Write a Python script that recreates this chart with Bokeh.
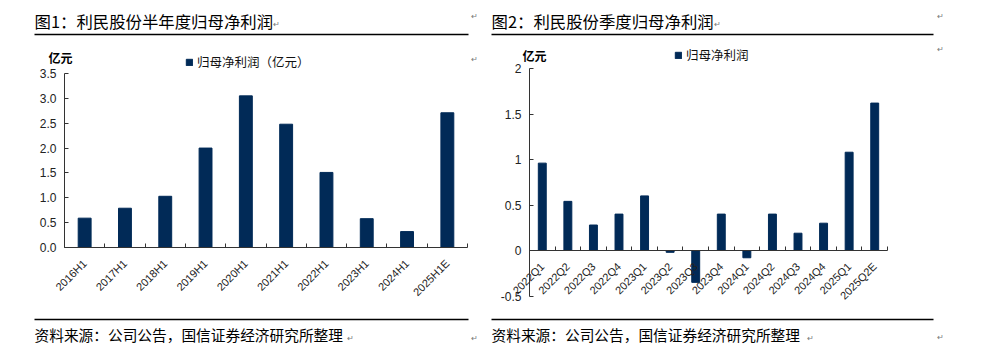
import math
from bokeh.plotting import figure
from bokeh.models import (FixedTicker, Label, Legend, LegendItem, Range1d,
                          LinearAxis, NumeralTickFormatter)
from bokeh.embed import file_html
from bokeh.resources import INLINE

# ---------------- data ----------------
half_cats = ["2016H1", "2017H1", "2018H1", "2019H1", "2020H1",
             "2021H1", "2022H1", "2023H1", "2024H1", "2025H1E"]
half_vals = [0.59, 0.79, 1.03, 2.00, 3.05, 2.48, 1.51, 0.58, 0.32, 2.71]

q_cats = ["2022Q1", "2022Q2", "2022Q3", "2022Q4", "2023Q1", "2023Q2", "2023Q3",
          "2023Q4", "2024Q1", "2024Q2", "2024Q3", "2024Q4", "2025Q1", "2025Q2E"]
q_vals = [0.96, 0.54, 0.28, 0.40, 0.60, -0.02, -0.35,
          0.40, -0.08, 0.40, 0.19, 0.30, 1.08, 1.62]

y1_ticks = [0.0, 0.5, 1.0, 1.5, 2.0, 2.5, 3.0, 3.5]
y2_ticks = [-0.5, 0.0, 0.5, 1.0, 1.5, 2.0]
y2_labels = ["-0.5", "0", "0.5", "1", "1.5", "2"]

title1 = "图1：利民股份半年度归母净利润"
title2 = "图2：利民股份季度归母净利润"
legend1 = "归母净利润（亿元）"
legend2 = "归母净利润"
unit_txt = "亿元"
source_txt = "资料来源：公司公告，国信证券经济研究所整理"

NAVY = "#012A57"
CJK = "Noto Sans CJK SC"
LAT = "Liberation Sans"
AX = "#333333"
W, H = 986, 355


def span(v0, p0, v1, p1, lo, hi):
    """Range whose values v0/v1 land on pixels p0/p1 of a frame from lo to hi."""
    s = (v1 - v0) / (p1 - p0)
    return Range1d(v0 + (lo - p0) * s, v0 + (hi - p0) * s)


p = figure(width=W, height=H, x_range=Range1d(0, W), y_range=Range1d(H, 0),
           output_backend="svg", toolbar_location=None,
           x_axis_location=None, y_axis_location=None,
           min_border=0, min_border_left=0, min_border_right=0,
           min_border_top=0, min_border_bottom=0)
p.outline_line_color = None
p.grid.grid_line_color = None
p.background_fill_color = "white"
p.border_fill_color = "white"

n1, n2 = len(half_cats), len(q_cats)
# chart 1 frame: x -0.5..n-0.5 over px 64..467 ; y 0..3.5 over px 247..73
p.extra_x_ranges["c1x"] = span(-0.5, 64, n1 - 0.5, 467, 0, W)
p.extra_y_ranges["c1y"] = span(0, 247, 3.5, 73, H, 0)
# chart 2 frame: x over px 529..887 ; y 0 at 250, 2 at 68
p.extra_x_ranges["c2x"] = span(-0.5, 529, n2 - 0.5, 887, 0, W)
p.extra_y_ranges["c2y"] = span(0, 250, 2.0, 68, H, 0)


def add_axes(xr, yr, n, cats, y_bounds, xlab_size, yticks, ylabels=None):
    xa = LinearAxis(x_range_name=xr, y_range_name=yr, fixed_location=0,
                    bounds=(-0.5, n - 0.5))
    xa.ticker = FixedTicker(ticks=list(range(n)),
                            minor_ticks=[i - 0.5 for i in range(n + 1)])
    xa.major_label_overrides = {i: c for i, c in enumerate(cats)}
    xa.major_label_orientation = math.pi / 4
    xa.major_tick_line_color = None
    xa.minor_tick_in = 4
    xa.minor_tick_out = 0
    xa.minor_tick_line_color = AX
    xa.axis_line_color = AX
    xa.major_label_text_font = LAT
    xa.major_label_text_font_size = xlab_size
    xa.major_label_text_color = "#222222"
    xa.major_label_standoff = 8
    p.add_layout(xa, "below")

    ya = LinearAxis(x_range_name=xr, y_range_name=yr, fixed_location=-0.5,
                    bounds=y_bounds)
    ya.ticker = FixedTicker(ticks=yticks)
    if ylabels is None:
        ya.formatter = NumeralTickFormatter(format="0.0")
    else:
        ya.major_label_overrides = dict(zip(yticks, ylabels))
    ya.major_tick_in = 4
    ya.major_tick_out = 0
    ya.minor_tick_line_color = None
    ya.axis_line_color = AX
    ya.major_tick_line_color = AX
    ya.major_label_text_font = LAT
    ya.major_label_text_font_size = "12px"
    ya.major_label_text_color = "#222222"
    ya.major_label_standoff = 8
    p.add_layout(ya, "left")


r1 = p.vbar(x=list(range(n1)), top=half_vals, width=0.32, color=NAVY,
            x_range_name="c1x", y_range_name="c1y")
r2 = p.vbar(x=list(range(n2)), top=q_vals, width=0.31, color=NAVY,
            x_range_name="c2x", y_range_name="c2y")
add_axes("c1x", "c1y", n1, half_cats, (0, 3.5), "11px", y1_ticks)
add_axes("c2x", "c2y", n2, q_cats, (-0.5, 2.0), "11px", y2_ticks, y2_labels)


def txt(x, y, text, size, bold=False, color="black", font=CJK):
    p.add_layout(Label(x=x, y=y, text=text, text_font=font, text_font_size=size,
                       text_font_style="bold" if bold else "normal",
                       text_color=color, text_align="left", text_baseline="middle"))


def hline(x0, x1, y, th=1.5):
    p.segment(x0=[x0], y0=[y], x1=[x1], y1=[y], line_color="black", line_width=th)


def add_legend(r, label, loc):
    lg = Legend(items=[LegendItem(label=label, renderers=[r])], location=loc,
                orientation="horizontal", padding=0, margin=0, spacing=0,
                glyph_width=8, glyph_height=8, label_standoff=4, label_height=14,
                border_line_color=None, background_fill_alpha=0,
                label_text_font=CJK, label_text_font_size="12.5px",
                label_text_color="#111111")
    p.add_layout(lg, "center")


add_legend(r1, legend1, (185, H - 71))
add_legend(r2, legend2, (674, H - 64))

MARK = "#777777"
# panel 1 texts
txt(34, 20, title1, "16.4px")
txt(272, 23, "↵", "8px", color=MARK)
hline(34, 468, 34)
txt(470, 15, "↵", "8px", color=MARK)
txt(470, 58, "↵", "8px", color=MARK)
txt(48, 57, unit_txt, "12px", bold=True)
hline(34, 468, 319)
txt(34, 334, source_txt, "14.7px")
txt(346, 337, "↵", "8px", color=MARK)
txt(470, 337, "↵", "8px", color=MARK)
# panel 2 texts
txt(491, 20, title2, "16.4px")
txt(713, 23, "↵", "8px", color=MARK)
hline(491, 933, 34)
txt(936, 15, "↵", "8px", color=MARK)
txt(936, 48, "↵", "8px", color=MARK)
txt(522, 55, unit_txt, "12px", bold=True)
hline(491, 933, 319)
txt(491, 334, source_txt, "14.7px")
txt(806, 337, "↵", "8px", color=MARK)
txt(936, 336, "↵", "8px", color=MARK)

open("out.html", "w").write(file_html(p, INLINE))
